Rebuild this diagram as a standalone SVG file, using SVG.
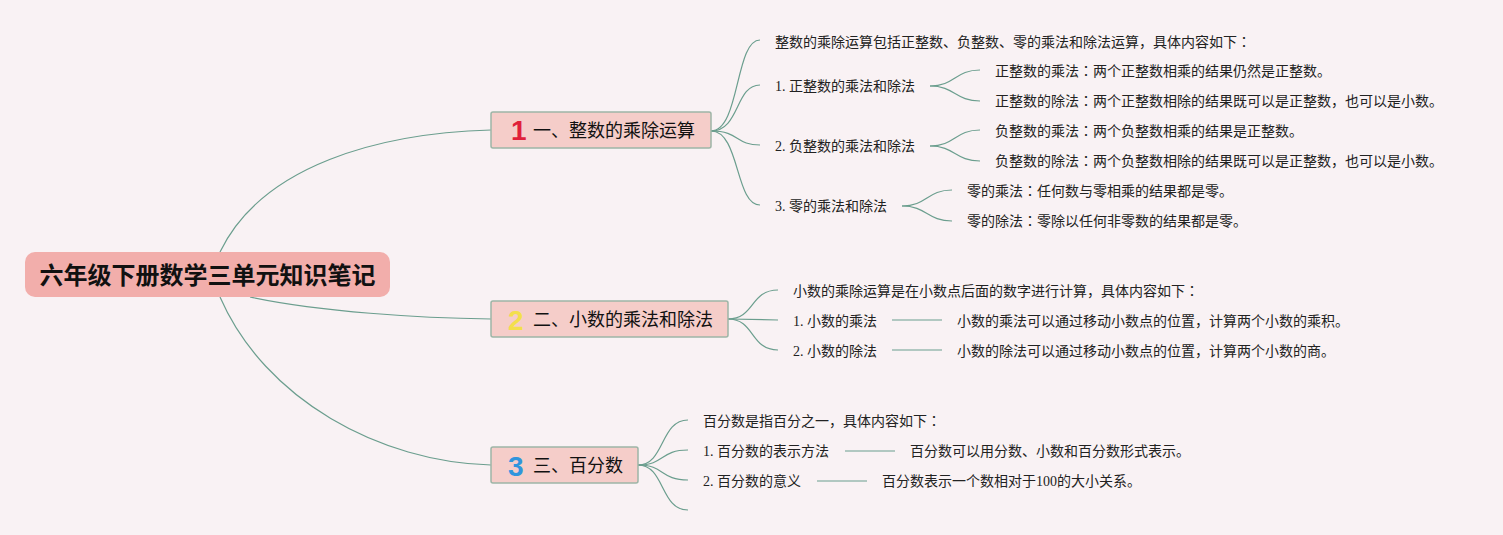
<svg xmlns="http://www.w3.org/2000/svg" width="1503" height="535" viewBox="0 0 1503 535">
<style>
.c{fill:none;stroke:#6b9e8e;stroke-width:1.2}
.t{font-family:"Liberation Serif","Noto Sans CJK SC",serif;font-size:14px;fill:#222}
.k{font-family:"Noto Sans CJK JP",sans-serif}
.bt{font-family:"Noto Sans CJK SC","Noto Sans",sans-serif;font-size:18px;fill:#111}
.box{fill:#f5cdc9;stroke:#9db5a6;stroke-width:1.5}
.num{font-family:"Liberation Sans","Noto Sans",sans-serif;font-weight:bold;font-size:28px}
</style>
<rect width="1503" height="535" fill="#f9f2f4"/>
<g id="connectors">
<path class="c" d="M220,252 C262,165 380,133 491,130"/>
<path class="c" d="M250,297 C320,312 420,318 491,319"/>
<path class="c" d="M220,297 C265,400 380,462 491,465"/>
<path class="c" d="M711,131 C740,131 735,40 760,40"/>
<path class="c" d="M711,131 C740,131 735,85 760,85"/>
<path class="c" d="M711,131 C740,131 735,145 760,145"/>
<path class="c" d="M711,131 C740,131 735,205 760,205"/>
<path class="c" d="M930,86 C955,86 955,70 980,70"/>
<path class="c" d="M930,86 C955,86 955,101 980,101"/>
<path class="c" d="M930,146 C955,146 955,130 980,130"/>
<path class="c" d="M930,146 C955,146 955,161 980,161"/>
<path class="c" d="M902,206 C927,206 927,190 952,190"/>
<path class="c" d="M902,206 C927,206 927,221 952,221"/>
<path class="c" d="M728,319 C755,319 750,290 778,290"/>
<path class="c" d="M728,319 L778,320"/>
<path class="c" d="M728,319 C755,319 750,350 778,350"/>
<path class="c" d="M892,320 L942,320"/>
<path class="c" d="M892,350 L942,350"/>
<path class="c" d="M638,465 C665,465 660,420 688,420"/>
<path class="c" d="M638,465 C665,465 660,450 688,450"/>
<path class="c" d="M638,465 C665,465 660,480 688,480"/>
<path class="c" d="M638,465 C665,465 660,510 688,510"/>
<path class="c" d="M845,451 L895,451"/>
<path class="c" d="M817,481 L867,481"/>
</g>
<g id="root">
<rect x="25" y="252" width="365" height="45" rx="10" fill="#f2aeab"/>
<text x="207.5" y="284" text-anchor="middle" font-family="Noto Sans CJK SC,sans-serif" font-weight="bold" font-size="24" fill="#111">六年级下册数学三单元知识笔记</text>
</g>
<g id="b1">
<rect class="box" x="491" y="112" width="220" height="36" rx="2"/>
<text class="num" x="511" y="140" fill="#e0203a">1</text>
<text class="bt" x="533" y="137">一、整数的乘除运算</text>
</g>
<g id="b2">
<rect class="box" x="491" y="301" width="237" height="36" rx="2"/>
<text class="num" x="508" y="330" fill="#f3df4c">2</text>
<text class="bt" x="533" y="326">二、小数的乘法和除法</text>
</g>
<g id="b3">
<rect class="box" x="491" y="447" width="147" height="36" rx="2"/>
<text class="num" x="508" y="476" fill="#2f95dd">3</text>
<text class="bt" x="533" y="472">三、百分数</text>
</g>
<g id="b1-children">
<text class="t" x="775" y="47">整数的乘除运算包括正整数、负整数、零的乘法和除法运算，具体内容如下<tspan class="k">：</tspan></text>
<text class="t" x="775" y="91">1. 正整数的乘法和除法</text>
<text class="t" x="775" y="151">2. 负整数的乘法和除法</text>
<text class="t" x="775" y="211">3. 零的乘法和除法</text>
<text class="t" x="995" y="76">正整数的乘法<tspan class="k">：</tspan>两个正整数相乘的结果仍然是正整数。</text>
<text class="t" x="995" y="106">正整数的除法<tspan class="k">：</tspan>两个正整数相除的结果既可以是正整数，也可以是小数。</text>
<text class="t" x="995" y="136">负整数的乘法<tspan class="k">：</tspan>两个负整数相乘的结果是正整数。</text>
<text class="t" x="995" y="166">负整数的除法<tspan class="k">：</tspan>两个负整数相除的结果既可以是正整数，也可以是小数。</text>
<text class="t" x="967" y="196">零的乘法<tspan class="k">：</tspan>任何数与零相乘的结果都是零。</text>
<text class="t" x="967" y="226">零的除法<tspan class="k">：</tspan>零除以任何非零数的结果都是零。</text>
</g>
<g id="b2-children">
<text class="t" x="793" y="296">小数的乘除运算是在小数点后面的数字进行计算，具体内容如下<tspan class="k">：</tspan></text>
<text class="t" x="793" y="326">1. 小数的乘法</text>
<text class="t" x="793" y="356">2. 小数的除法</text>
<text class="t" x="957" y="326">小数的乘法可以通过移动小数点的位置，计算两个小数的乘积。</text>
<text class="t" x="957" y="356">小数的除法可以通过移动小数点的位置，计算两个小数的商。</text>
</g>
<g id="b3-children">
<text class="t" x="703" y="426">百分数是指百分之一，具体内容如下<tspan class="k">：</tspan></text>
<text class="t" x="703" y="456">1. 百分数的表示方法</text>
<text class="t" x="703" y="486">2. 百分数的意义</text>
<text class="t" x="910" y="456">百分数可以用分数、小数和百分数形式表示。</text>
<text class="t" x="882" y="486">百分数表示一个数相对于100的大小关系。</text>
</g>
</svg>
